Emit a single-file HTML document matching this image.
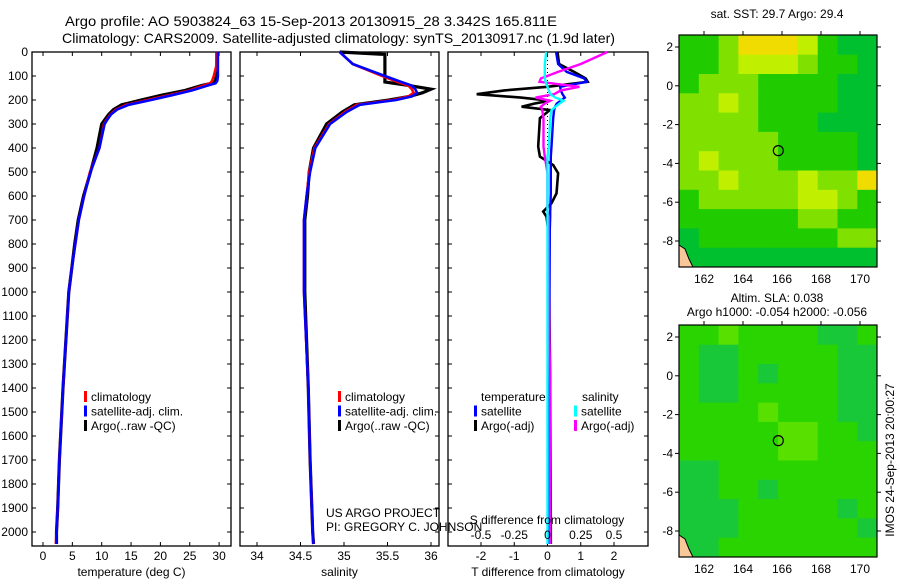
<!DOCTYPE html>
<html><head><meta charset="utf-8">
<style>
html,body{margin:0;padding:0;background:#fff;}
svg text{font-family:"Liberation Sans",sans-serif;font-size:12px;fill:#000;}
</style></head>
<body>
<svg id="fig" width="900" height="580" viewBox="0 0 900 580" xmlns="http://www.w3.org/2000/svg">
<text x="65" y="26" textLength="492" lengthAdjust="spacingAndGlyphs" style="font-size:14px">Argo profile: AO 5903824_63 15-Sep-2013 20130915_28 3.342S 165.811E</text>
<text x="62" y="43" textLength="553" lengthAdjust="spacingAndGlyphs" style="font-size:14px">Climatology: CARS2009. Satellite-adjusted climatology: synTS_20130917.nc (1.9d later)</text>
<g id="g1"></g>
<g id="g2"></g>
<g id="g3"></g>
<g id="m1"></g>
<g id="m2"></g>
<text x="777" y="18" text-anchor="middle">sat. SST: 29.7 Argo: 29.4</text>
<text x="777" y="302" text-anchor="middle">Altim. SLA: 0.038</text>
<text x="777" y="316" text-anchor="middle">Argo h1000: -0.054 h2000: -0.056</text>
<text x="894" y="460" text-anchor="middle" transform="rotate(-90 894 460)">IMOS 24-Sep-2013 20:00:27</text>
<text x="326" y="517">US ARGO PROJECT</text>
<text x="326" y="531">PI: GREGORY C. JOHNSON</text>
</svg>
<script>
// ---- profile data ----
const depthT = [0,60,100,120,130,140,160,180,200,220,240,260,280,300,400,500,600,700,800,900,1000,1200,1400,1500,1700,1900,2000,2050];
const tempArgo = [29.6,29.6,29.5,29.4,28.8,27.0,24.2,20.2,16.7,13.4,12.0,11.2,10.6,10.0,9.2,8.1,6.9,6.0,5.4,4.9,4.4,3.9,3.4,3.2,2.8,2.5,2.3,2.3];
const tempClim = [29.6,29.5,29.1,28.8,28.5,27.3,25.0,21.5,17.8,14.2,12.4,11.5,10.9,10.4,9.6,8.0,7.0,6.1,5.5,4.9,4.4,3.9,3.4,3.2,2.8,2.5,2.3,2.2];
const tempSat = [29.8,29.8,29.8,29.7,29.4,28.0,25.4,22.0,18.4,14.6,12.6,11.6,11.0,10.5,9.6,8.1,7.0,6.1,5.5,4.9,4.4,3.9,3.4,3.2,2.8,2.5,2.3,2.3];
const depthS = [0,10,50,100,125,140,155,170,185,200,220,250,300,400,500,600,700,1000,1400,1700,2000,2050];
const salArgo = [34.95,35.47,35.47,35.47,35.47,35.75,36.0,35.9,35.75,35.52,35.12,34.98,34.80,34.65,34.60,34.58,34.55,34.55,34.59,34.61,34.64,34.65];
const salClim = [34.95,34.98,35.10,35.44,35.62,35.74,35.78,35.80,35.74,35.56,35.15,35.01,34.83,34.66,34.60,34.57,34.54,34.54,34.59,34.61,34.64,34.65];
const salSat = [34.95,34.98,35.10,35.47,35.66,35.78,35.82,35.84,35.78,35.60,35.18,35.03,34.84,34.67,34.61,34.57,34.54,34.54,34.59,34.61,34.64,34.65];
const depthD = [0,50,83,110,124,145,160,176,190,203,215,228,242,276,394,436,471,505,589,630,665,686,742,1000,1400,2000,2050];
const dTsat = [0.26,0.32,0.58,1.1,1.18,0.38,0.40,0.45,0.52,0.40,0.28,0.23,0.2,0.17,0.12,0.1,0.1,0.1,0.1,0.09,0.08,0.08,0.07,0.06,0.05,0.05,0.05];
const dTargo = [0.3,0.35,0.8,1.15,1.21,0.0,-1.3,-2.13,-0.8,0.07,-0.4,-0.78,0.07,-0.23,-0.28,-0.23,0.17,0.32,0.27,0.12,-0.13,-0.03,0.02,0.05,0.08,0.1,0.1];
const dSsat = [-0.01,-0.02,-0.02,-0.02,-0.015,0.0,0.01,0.02,0.06,0.12,0.09,0.06,0.03,0.02,0.01,0.0,0.0,0.0,0.0,0.0,0.0,0.0,0.0,0.0,0.0,0.0,0.0];
const dSargo = [0.45,0.25,0.08,-0.05,-0.06,0.24,0.1,0.05,-0.09,0.02,-0.02,-0.05,-0.04,-0.03,-0.03,-0.02,-0.01,0.0,0.0,0.0,0.0,0.01,0.01,0.01,0.02,0.02,0.02];
const depthTicks = [0,100,200,300,400,500,600,700,800,900,1000,1100,1200,1300,1400,1500,1600,1700,1800,1900,2000];
const tTicks = [0,5,10,15,20,25,30];
const sTicks = [34,34.5,35,35.5,36];
const dTTicks = [-2,-1,0,1,2];
const dSTicks = [-0.5,-0.25,0,0.25,0.5];
const dSTickLabels = ["-0.5","-0.25","0","0.25","0.5"];
// ---- map data (levels per 1x1 degree cell, rows top->bottom) ----
const sstGrid = ["2235554211","2234443221","2333222211","3343222211","3333222111","3333322221","3433322221","3343334335","2333334432","2222223322","1222222233","1111111111"];
const slaGrid = ["2232222112","2112222211","2112122211","2112222211","2222322211","2222233221","2222233222","1122222222","1122122222","1112222212","1112222221","1122222222"];
const sstColors = ["#00b898","#00c030","#20cc00","#80e000","#c0f000","#f0dc00"];
const slaColors = ["#10b848","#18c838","#2ad400","#58e000"];
const argoLon = 165.811, argoLat = -3.342;

const NS="http://www.w3.org/2000/svg";
function mk(parent,tag,attrs){const e=document.createElementNS(NS,tag);for(const k in attrs)e.setAttribute(k,attrs[k]);parent.appendChild(e);return e;}
const yD = d => 52 + d*0.24;
const Y0=52, Y1=546;

function panel(g,x0,x1,xs,ticks,labels,xlabel,name){
  const fr=mk(g,'rect',{x:x0,y:Y0,width:x1-x0,height:Y1-Y0,fill:'none',stroke:'#000','stroke-width':1.3});
  
  
  depthTicks.forEach(d=>{
    mk(g,'line',{x1:x0,x2:x0+4,y1:yD(d),y2:yD(d),stroke:'#000'});
    mk(g,'line',{x1:x1-4,x2:x1,y1:yD(d),y2:yD(d),stroke:'#000'});
  });
  ticks.forEach((v,i)=>{
    const x=xs(v);
    mk(g,'line',{x1:x,x2:x,y1:Y0,y2:Y0+4,stroke:'#000'});
    mk(g,'line',{x1:x,x2:x,y1:Y1-4,y2:Y1,stroke:'#000'});
    const t=mk(g,'text',{x:x,y:Y1+14,'text-anchor':'middle'});t.textContent=labels[i];
    
    
  });
  const xl=mk(g,'text',{x:(x0+x1)/2,y:576,'text-anchor':'middle'});xl.textContent=xlabel;
  
  
}
function line(g,xs,depths,vals,color,name,w){
  const p=depths.map((d,i)=>xs(vals[i]).toFixed(1)+','+yD(d).toFixed(1)).join(' ');
  const e=mk(g,'polyline',{points:p,fill:'none',stroke:color,'stroke-width':w||2.6,'stroke-linejoin':'miter'});
  
  
}
function legend(g,x,y,items){
  items.forEach((it,i)=>{
    const yy=y+i*14.5;
    if(it[0]) mk(g,'rect',{x:x,y:yy-10,width:3,height:11,fill:it[0]});
    const t=mk(g,'text',{x:x+(it[0]?7:0),y:yy});t.textContent=it[1];
    
    
  });
}
const svg=document.getElementById('fig');
depthTicks.forEach(d=>{const t=mk(svg,'text',{x:28,y:yD(d)+4,'text-anchor':'end'});t.textContent=d;
  
  });

// Panel 1
const g1=document.getElementById('g1');
const xT=v=>43+v*5.87;
panel(g1,32,231,xT,tTicks,tTicks.map(String),'temperature (deg C)','temperature');
line(g1,xT,depthT,tempArgo,'#000','temp-argo-line',3.2);
line(g1,xT,depthT,tempClim,'#f00','temp-climatology-line');
line(g1,xT,depthT,tempSat,'#00f','temp-satellite-line');
legend(g1,84,401,[['#f00','climatology'],['#00f','satellite-adj. clim.'],['#000','Argo(..raw -QC)']]);

// Panel 2
const g2=document.getElementById('g2');
const xS=v=>257+(v-34)*87;
panel(g2,240,439,xS,sTicks,sTicks.map(String),'salinity','salinity');
line(g2,xS,depthS,salArgo,'#000','sal-argo-line',3.2);
line(g2,xS,depthS,salClim,'#f00','sal-climatology-line');
line(g2,xS,depthS,salSat,'#00f','sal-satellite-line');
legend(g2,338,401,[['#f00','climatology'],['#00f','satellite-adj. clim.'],['#000','Argo(..raw -QC)']]);

// Panel 3
const g3=document.getElementById('g3');
const xDT=v=>547.5+v*33.25;
const xDS=v=>547.5+v*133;
panel(g3,448,648,xDT,dTTicks,dTTicks.map(String),'T difference from climatology','tdiff');
mk(g3,'line',{x1:547.5,x2:547.5,y1:Y0,y2:Y1,stroke:'#000','stroke-dasharray':'1,3'});
line(g3,xDT,depthD,dTargo,'#000','tdiff-argo-line',2.6);
line(g3,xDT,depthD,dTsat,'#00f','tdiff-satellite-line',2.4);
line(g3,xDS,depthD,dSargo,'#f0f','sdiff-argo-line',2.4);
line(g3,xDS,depthD,dSsat,'#0ff','sdiff-satellite-line',2.4);
dSTicks.forEach((v,i)=>{const t=mk(g3,'text',{x:xDS(v),y:539,'text-anchor':'middle'});t.textContent=dSTickLabels[i];
  
  });
const sl=mk(g3,'text',{x:547,y:524,'text-anchor':'middle'});sl.textContent='S difference from climatology';


legend(g3,481,401,[[null,'temperature']]);
legend(g3,474,415.5,[['#00f','satellite'],['#000','Argo(-adj)']]);
legend(g3,582,401,[[null,'salinity']]);
legend(g3,574,415.5,[['#0ff','satellite'],['#f0f','Argo(-adj)']]);

// Maps
function map(g,top,grid,colors,name,labY){
  const L=679,R=877,B=top+232;
  const lonX=v=>704+(v-162)*19.5;
  const latY=v=>top+12+(2-v)*19.4;
  grid.forEach((row,r)=>{
    [...row].forEach((c,k)=>{
      const x=lonX(160.72+k*1.0155), y=latY(2.6-r*0.995);
      const cell=mk(g,'rect',{x:x.toFixed(1),y:y.toFixed(1),width:20.5,height:20,fill:colors[+c]});
      
      
    });
  });
  mk(g,'rect',{x:R,y:top-2,width:20,height:240,fill:'#fff'});
  mk(g,'rect',{x:L-5,y:B,width:210,height:10,fill:'#fff'});
  const cst=mk(g,'polygon',{points:`${L},${B-22} ${L+6},${B-18} ${L+10},${B-8} ${L+14},${B} ${L},${B}`,fill:'#f8c898',stroke:'#000','stroke-width':1});
  
  
  const fr=mk(g,'rect',{x:L,y:top,width:R-L,height:B-top,fill:'none',stroke:'#000','stroke-width':1.2});
  
  
  [162,164,166,168,170].forEach(v=>{
    mk(g,'line',{x1:lonX(v),x2:lonX(v),y1:top-4,y2:top,stroke:'#000'});
    const t=mk(g,'text',{x:lonX(v),y:labY,'text-anchor':'middle'});t.textContent=v;
    
    
  });
  [2,0,-2,-4,-6,-8].forEach(v=>{
    mk(g,'line',{x1:L-4,x2:L,y1:latY(v),y2:latY(v),stroke:'#000'});
    mk(g,'line',{x1:R,x2:R+4,y1:latY(v),y2:latY(v),stroke:'#000'});
    const t=mk(g,'text',{x:L-6,y:latY(v)+4,'text-anchor':'end'});t.textContent=v;
    
    
  });
  const c=mk(g,'circle',{cx:lonX(argoLon),cy:latY(argoLat),r:5,fill:'none',stroke:'#000','stroke-width':1.2});
  
  
}
map(document.getElementById('m1'),35,sstGrid,sstColors,'sst-map',283);
map(document.getElementById('m2'),325,slaGrid,slaColors,'sla-map',573);
</script>
</body></html>
